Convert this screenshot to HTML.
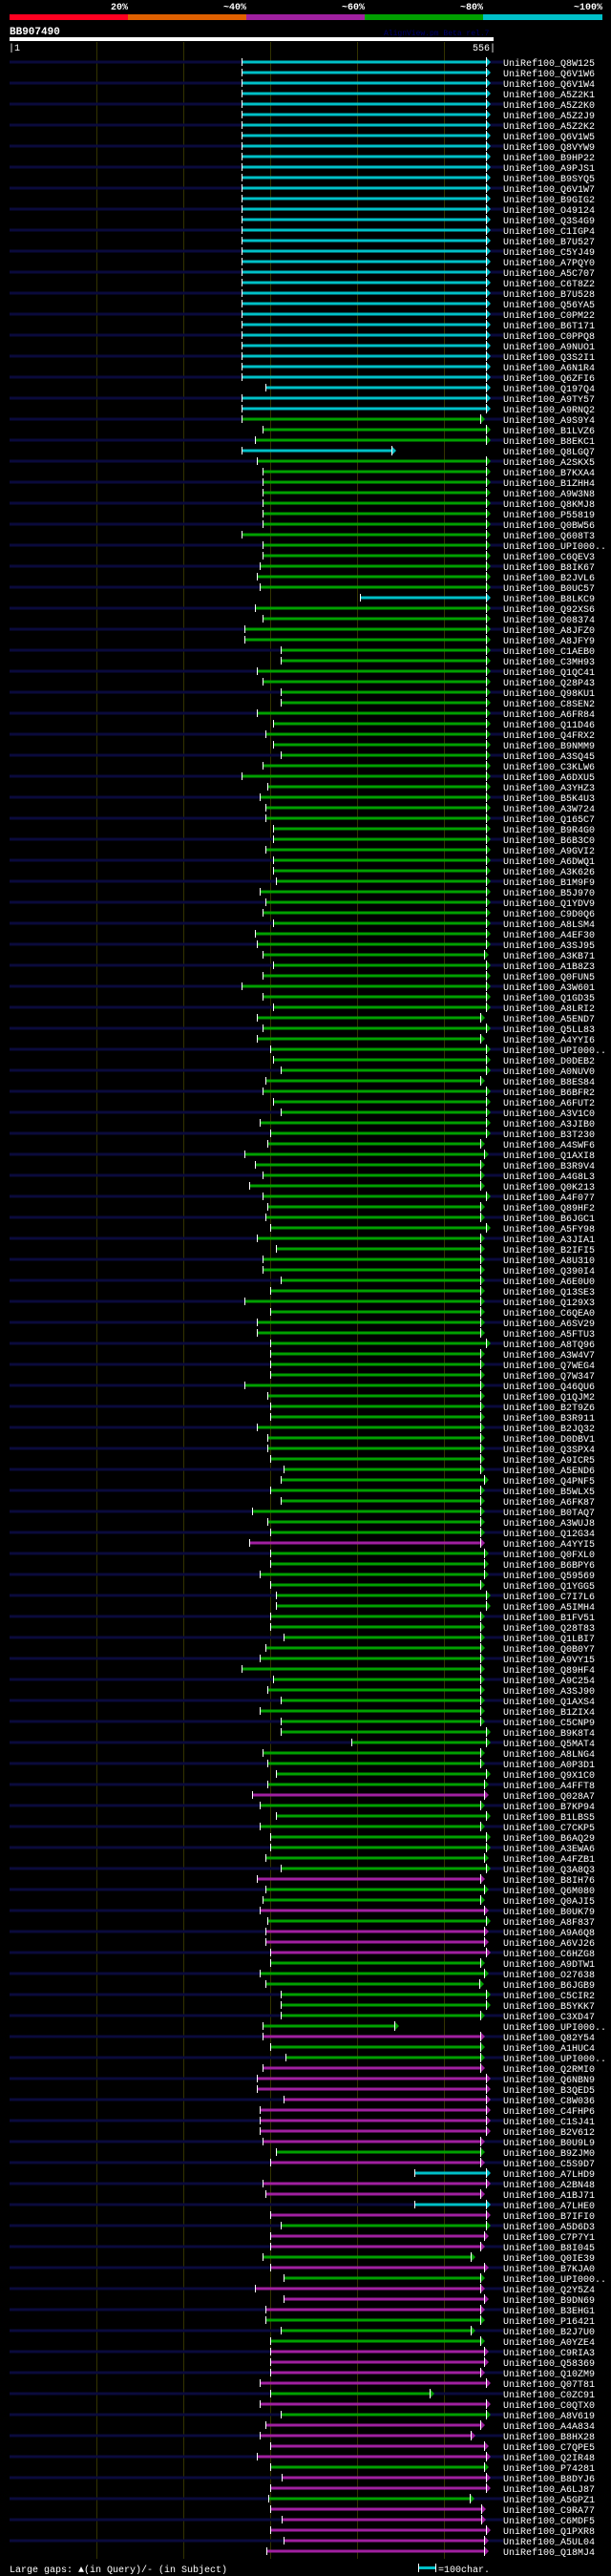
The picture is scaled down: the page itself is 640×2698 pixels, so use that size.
<!DOCTYPE html>
<html><head><meta charset="utf-8"><style>
html,body{margin:0;padding:0;background:#000;}
svg{display:block}
text{font-family:"Liberation Mono",monospace;font-size:10px;fill:#fff}
.n{fill:#0a0a3c}.c{fill:#00c0c8}.g{fill:#00a000}.p{fill:#a020a0}
.w{stroke:#fff;stroke-width:1;fill:none}
</style></head><body>
<svg width="640" height="2698" viewBox="0 0 640 2698" xmlns="http://www.w3.org/2000/svg">
<rect width="640" height="2698" fill="#000"/>
<g font-weight="bold" text-anchor="end">
<text x="134" y="10" style="font-weight:bold">20%</text>
<text x="258" y="10" style="font-weight:bold">~40%</text>
<text x="382" y="10" style="font-weight:bold">~60%</text>
<text x="506" y="10" style="font-weight:bold">~80%</text>
<text x="631" y="10" style="font-weight:bold">~100%</text>
</g>
<rect x="10" y="15" width="124" height="6" fill="#ff0020"/>
<rect x="134" y="15" width="124" height="6" fill="#e06000"/>
<rect x="258" y="15" width="124" height="6" fill="#a020a0"/>
<rect x="382" y="15" width="124" height="6" fill="#00a000"/>
<rect x="506" y="15" width="125" height="6" fill="#00c0c8"/>
<text x="10" y="36" style="font-weight:bold;font-size:11px">BB907490</text>
<text x="402" y="37" style="font-size:8px;fill:#000070">AlignView.pm Beta rel.7</text>
<rect x="10" y="39" width="507" height="4" fill="#fff"/>
<text x="9" y="53">|1</text>
<text x="519" y="53" text-anchor="end">556|</text>
<g stroke="#333300" stroke-width="1">
<line x1="101.5" y1="44" x2="101.5" y2="2680"/><line x1="192.5" y1="44" x2="192.5" y2="2680"/><line x1="283.5" y1="44" x2="283.5" y2="2680"/><line x1="374.5" y1="44" x2="374.5" y2="2680"/><line x1="465.5" y1="44" x2="465.5" y2="2680"/>
</g>
<g transform="translate(0,65)"><rect class="n" x="10" y="-1.5" width="517" height="3"/><rect class="c" x="253" y="-1.5" width="256" height="3"/><path class="c" d="M509 -5L514 0L509 5Z"/><path class="w" d="M253.5 -4V4M509.5 -5V5"/><text x="527" y="4">UniRef100_Q8W125</text></g>
<g transform="translate(0,76)"><rect class="c" x="253" y="-1.5" width="256" height="3"/><path class="c" d="M509 -5L514 0L509 5Z"/><path class="w" d="M253.5 -4V4M509.5 -5V5"/><text x="527" y="4">UniRef100_Q6V1W6</text></g>
<g transform="translate(0,87)"><rect class="n" x="10" y="-1.5" width="517" height="3"/><rect class="c" x="253" y="-1.5" width="256" height="3"/><path class="c" d="M509 -5L514 0L509 5Z"/><path class="w" d="M253.5 -4V4M509.5 -5V5"/><text x="527" y="4">UniRef100_Q6V1W4</text></g>
<g transform="translate(0,98)"><rect class="c" x="253" y="-1.5" width="256" height="3"/><path class="c" d="M509 -5L514 0L509 5Z"/><path class="w" d="M253.5 -4V4M509.5 -5V5"/><text x="527" y="4">UniRef100_A5Z2K1</text></g>
<g transform="translate(0,109)"><rect class="n" x="10" y="-1.5" width="517" height="3"/><rect class="c" x="253" y="-1.5" width="256" height="3"/><path class="c" d="M509 -5L514 0L509 5Z"/><path class="w" d="M253.5 -4V4M509.5 -5V5"/><text x="527" y="4">UniRef100_A5Z2K0</text></g>
<g transform="translate(0,120)"><rect class="c" x="253" y="-1.5" width="256" height="3"/><path class="c" d="M509 -5L514 0L509 5Z"/><path class="w" d="M253.5 -4V4M509.5 -5V5"/><text x="527" y="4">UniRef100_A5Z2J9</text></g>
<g transform="translate(0,131)"><rect class="n" x="10" y="-1.5" width="517" height="3"/><rect class="c" x="253" y="-1.5" width="256" height="3"/><path class="c" d="M509 -5L514 0L509 5Z"/><path class="w" d="M253.5 -4V4M509.5 -5V5"/><text x="527" y="4">UniRef100_A5Z2K2</text></g>
<g transform="translate(0,142)"><rect class="c" x="253" y="-1.5" width="256" height="3"/><path class="c" d="M509 -5L514 0L509 5Z"/><path class="w" d="M253.5 -4V4M509.5 -5V5"/><text x="527" y="4">UniRef100_Q6V1W5</text></g>
<g transform="translate(0,153)"><rect class="n" x="10" y="-1.5" width="517" height="3"/><rect class="c" x="253" y="-1.5" width="256" height="3"/><path class="c" d="M509 -5L514 0L509 5Z"/><path class="w" d="M253.5 -4V4M509.5 -5V5"/><text x="527" y="4">UniRef100_Q8VYW9</text></g>
<g transform="translate(0,164)"><rect class="c" x="253" y="-1.5" width="256" height="3"/><path class="c" d="M509 -5L514 0L509 5Z"/><path class="w" d="M253.5 -4V4M509.5 -5V5"/><text x="527" y="4">UniRef100_B9HP22</text></g>
<g transform="translate(0,175)"><rect class="n" x="10" y="-1.5" width="517" height="3"/><rect class="c" x="253" y="-1.5" width="256" height="3"/><path class="c" d="M509 -5L514 0L509 5Z"/><path class="w" d="M253.5 -4V4M509.5 -5V5"/><text x="527" y="4">UniRef100_A9PJS1</text></g>
<g transform="translate(0,186)"><rect class="c" x="253" y="-1.5" width="256" height="3"/><path class="c" d="M509 -5L514 0L509 5Z"/><path class="w" d="M253.5 -4V4M509.5 -5V5"/><text x="527" y="4">UniRef100_B9SYQ5</text></g>
<g transform="translate(0,197)"><rect class="n" x="10" y="-1.5" width="517" height="3"/><rect class="c" x="253" y="-1.5" width="256" height="3"/><path class="c" d="M509 -5L514 0L509 5Z"/><path class="w" d="M253.5 -4V4M509.5 -5V5"/><text x="527" y="4">UniRef100_Q6V1W7</text></g>
<g transform="translate(0,208)"><rect class="c" x="253" y="-1.5" width="256" height="3"/><path class="c" d="M509 -5L514 0L509 5Z"/><path class="w" d="M253.5 -4V4M509.5 -5V5"/><text x="527" y="4">UniRef100_B9GIG2</text></g>
<g transform="translate(0,219)"><rect class="n" x="10" y="-1.5" width="517" height="3"/><rect class="c" x="253" y="-1.5" width="256" height="3"/><path class="c" d="M509 -5L514 0L509 5Z"/><path class="w" d="M253.5 -4V4M509.5 -5V5"/><text x="527" y="4">UniRef100_O49124</text></g>
<g transform="translate(0,230)"><rect class="c" x="253" y="-1.5" width="256" height="3"/><path class="c" d="M509 -5L514 0L509 5Z"/><path class="w" d="M253.5 -4V4M509.5 -5V5"/><text x="527" y="4">UniRef100_Q3S4G9</text></g>
<g transform="translate(0,241)"><rect class="n" x="10" y="-1.5" width="517" height="3"/><rect class="c" x="253" y="-1.5" width="256" height="3"/><path class="c" d="M509 -5L514 0L509 5Z"/><path class="w" d="M253.5 -4V4M509.5 -5V5"/><text x="527" y="4">UniRef100_C1IGP4</text></g>
<g transform="translate(0,252)"><rect class="c" x="253" y="-1.5" width="256" height="3"/><path class="c" d="M509 -5L514 0L509 5Z"/><path class="w" d="M253.5 -4V4M509.5 -5V5"/><text x="527" y="4">UniRef100_B7U527</text></g>
<g transform="translate(0,263)"><rect class="n" x="10" y="-1.5" width="517" height="3"/><rect class="c" x="253" y="-1.5" width="256" height="3"/><path class="c" d="M509 -5L514 0L509 5Z"/><path class="w" d="M253.5 -4V4M509.5 -5V5"/><text x="527" y="4">UniRef100_C5YJ49</text></g>
<g transform="translate(0,274)"><rect class="c" x="253" y="-1.5" width="256" height="3"/><path class="c" d="M509 -5L514 0L509 5Z"/><path class="w" d="M253.5 -4V4M509.5 -5V5"/><text x="527" y="4">UniRef100_A7PQY0</text></g>
<g transform="translate(0,285)"><rect class="n" x="10" y="-1.5" width="517" height="3"/><rect class="c" x="253" y="-1.5" width="256" height="3"/><path class="c" d="M509 -5L514 0L509 5Z"/><path class="w" d="M253.5 -4V4M509.5 -5V5"/><text x="527" y="4">UniRef100_A5C707</text></g>
<g transform="translate(0,296)"><rect class="c" x="253" y="-1.5" width="256" height="3"/><path class="c" d="M509 -5L514 0L509 5Z"/><path class="w" d="M253.5 -4V4M509.5 -5V5"/><text x="527" y="4">UniRef100_C6T8Z2</text></g>
<g transform="translate(0,307)"><rect class="n" x="10" y="-1.5" width="517" height="3"/><rect class="c" x="253" y="-1.5" width="256" height="3"/><path class="c" d="M509 -5L514 0L509 5Z"/><path class="w" d="M253.5 -4V4M509.5 -5V5"/><text x="527" y="4">UniRef100_B7U528</text></g>
<g transform="translate(0,318)"><rect class="c" x="253" y="-1.5" width="256" height="3"/><path class="c" d="M509 -5L514 0L509 5Z"/><path class="w" d="M253.5 -4V4M509.5 -5V5"/><text x="527" y="4">UniRef100_Q56YA5</text></g>
<g transform="translate(0,329)"><rect class="n" x="10" y="-1.5" width="517" height="3"/><rect class="c" x="253" y="-1.5" width="256" height="3"/><path class="c" d="M509 -5L514 0L509 5Z"/><path class="w" d="M253.5 -4V4M509.5 -5V5"/><text x="527" y="4">UniRef100_C0PM22</text></g>
<g transform="translate(0,340)"><rect class="c" x="253" y="-1.5" width="256" height="3"/><path class="c" d="M509 -5L514 0L509 5Z"/><path class="w" d="M253.5 -4V4M509.5 -5V5"/><text x="527" y="4">UniRef100_B6T171</text></g>
<g transform="translate(0,351)"><rect class="n" x="10" y="-1.5" width="517" height="3"/><rect class="c" x="253" y="-1.5" width="256" height="3"/><path class="c" d="M509 -5L514 0L509 5Z"/><path class="w" d="M253.5 -4V4M509.5 -5V5"/><text x="527" y="4">UniRef100_C0PPQ8</text></g>
<g transform="translate(0,362)"><rect class="c" x="253" y="-1.5" width="256" height="3"/><path class="c" d="M509 -5L514 0L509 5Z"/><path class="w" d="M253.5 -4V4M509.5 -5V5"/><text x="527" y="4">UniRef100_A9NUO1</text></g>
<g transform="translate(0,373)"><rect class="n" x="10" y="-1.5" width="517" height="3"/><rect class="c" x="253" y="-1.5" width="256" height="3"/><path class="c" d="M509 -5L514 0L509 5Z"/><path class="w" d="M253.5 -4V4M509.5 -5V5"/><text x="527" y="4">UniRef100_Q3S2I1</text></g>
<g transform="translate(0,384)"><rect class="c" x="253" y="-1.5" width="256" height="3"/><path class="c" d="M509 -5L514 0L509 5Z"/><path class="w" d="M253.5 -4V4M509.5 -5V5"/><text x="527" y="4">UniRef100_A6N1R4</text></g>
<g transform="translate(0,395)"><rect class="n" x="10" y="-1.5" width="517" height="3"/><rect class="c" x="253" y="-1.5" width="256" height="3"/><path class="c" d="M509 -5L514 0L509 5Z"/><path class="w" d="M253.5 -4V4M509.5 -5V5"/><text x="527" y="4">UniRef100_Q6ZFI6</text></g>
<g transform="translate(0,406)"><rect class="c" x="278" y="-1.5" width="231" height="3"/><path class="c" d="M509 -5L514 0L509 5Z"/><path class="w" d="M278.5 -4V4M509.5 -5V5"/><text x="527" y="4">UniRef100_Q197Q4</text></g>
<g transform="translate(0,417)"><rect class="n" x="10" y="-1.5" width="517" height="3"/><rect class="c" x="253" y="-1.5" width="256" height="3"/><path class="c" d="M509 -5L514 0L509 5Z"/><path class="w" d="M253.5 -4V4M509.5 -5V5"/><text x="527" y="4">UniRef100_A9TY57</text></g>
<g transform="translate(0,428)"><rect class="c" x="253" y="-1.5" width="256" height="3"/><path class="c" d="M509 -5L514 0L509 5Z"/><path class="w" d="M253.5 -4V4M509.5 -5V5"/><text x="527" y="4">UniRef100_A9RNQ2</text></g>
<g transform="translate(0,439)"><rect class="n" x="10" y="-1.5" width="517" height="3"/><rect class="g" x="253" y="-1.5" width="250" height="3"/><path class="g" d="M503 -5L508 0L503 5Z"/><path class="w" d="M253.5 -4V4M503.5 -5V5"/><text x="527" y="4">UniRef100_A9S9Y4</text></g>
<g transform="translate(0,450)"><rect class="g" x="275" y="-1.5" width="234" height="3"/><path class="g" d="M509 -5L514 0L509 5Z"/><path class="w" d="M275.5 -4V4M509.5 -5V5"/><text x="527" y="4">UniRef100_B1LVZ6</text></g>
<g transform="translate(0,461)"><rect class="n" x="10" y="-1.5" width="517" height="3"/><rect class="g" x="267" y="-1.5" width="242" height="3"/><path class="g" d="M509 -5L514 0L509 5Z"/><path class="w" d="M267.5 -4V4M509.5 -5V5"/><text x="527" y="4">UniRef100_B8EKC1</text></g>
<g transform="translate(0,472)"><rect class="c" x="253" y="-1.5" width="157" height="3"/><path class="c" d="M410 -5L415 0L410 5Z"/><path class="w" d="M253.5 -4V4M410.5 -5V5"/><text x="527" y="4">UniRef100_Q8LGQ7</text></g>
<g transform="translate(0,483)"><rect class="n" x="10" y="-1.5" width="517" height="3"/><rect class="g" x="269" y="-1.5" width="240" height="3"/><path class="g" d="M509 -5L514 0L509 5Z"/><path class="w" d="M269.5 -4V4M509.5 -5V5"/><text x="527" y="4">UniRef100_A2SKX5</text></g>
<g transform="translate(0,494)"><rect class="g" x="275" y="-1.5" width="234" height="3"/><path class="g" d="M509 -5L514 0L509 5Z"/><path class="w" d="M275.5 -4V4M509.5 -5V5"/><text x="527" y="4">UniRef100_B7KXA4</text></g>
<g transform="translate(0,505)"><rect class="n" x="10" y="-1.5" width="517" height="3"/><rect class="g" x="275" y="-1.5" width="234" height="3"/><path class="g" d="M509 -5L514 0L509 5Z"/><path class="w" d="M275.5 -4V4M509.5 -5V5"/><text x="527" y="4">UniRef100_B1ZHH4</text></g>
<g transform="translate(0,516)"><rect class="g" x="275" y="-1.5" width="234" height="3"/><path class="g" d="M509 -5L514 0L509 5Z"/><path class="w" d="M275.5 -4V4M509.5 -5V5"/><text x="527" y="4">UniRef100_A9W3N8</text></g>
<g transform="translate(0,527)"><rect class="n" x="10" y="-1.5" width="517" height="3"/><rect class="g" x="275" y="-1.5" width="234" height="3"/><path class="g" d="M509 -5L514 0L509 5Z"/><path class="w" d="M275.5 -4V4M509.5 -5V5"/><text x="527" y="4">UniRef100_Q8KMJ8</text></g>
<g transform="translate(0,538)"><rect class="g" x="275" y="-1.5" width="234" height="3"/><path class="g" d="M509 -5L514 0L509 5Z"/><path class="w" d="M275.5 -4V4M509.5 -5V5"/><text x="527" y="4">UniRef100_P55819</text></g>
<g transform="translate(0,549)"><rect class="n" x="10" y="-1.5" width="517" height="3"/><rect class="g" x="275" y="-1.5" width="234" height="3"/><path class="g" d="M509 -5L514 0L509 5Z"/><path class="w" d="M275.5 -4V4M509.5 -5V5"/><text x="527" y="4">UniRef100_Q0BW56</text></g>
<g transform="translate(0,560)"><rect class="g" x="253" y="-1.5" width="256" height="3"/><path class="g" d="M509 -5L514 0L509 5Z"/><path class="w" d="M253.5 -4V4M509.5 -5V5"/><text x="527" y="4">UniRef100_Q608T3</text></g>
<g transform="translate(0,571)"><rect class="n" x="10" y="-1.5" width="517" height="3"/><rect class="g" x="275" y="-1.5" width="234" height="3"/><path class="g" d="M509 -5L514 0L509 5Z"/><path class="w" d="M275.5 -4V4M509.5 -5V5"/><text x="527" y="4">UniRef100_UPI000..</text></g>
<g transform="translate(0,582)"><rect class="g" x="275" y="-1.5" width="234" height="3"/><path class="g" d="M509 -5L514 0L509 5Z"/><path class="w" d="M275.5 -4V4M509.5 -5V5"/><text x="527" y="4">UniRef100_C6QEV3</text></g>
<g transform="translate(0,593)"><rect class="n" x="10" y="-1.5" width="517" height="3"/><rect class="g" x="272" y="-1.5" width="237" height="3"/><path class="g" d="M509 -5L514 0L509 5Z"/><path class="w" d="M272.5 -4V4M509.5 -5V5"/><text x="527" y="4">UniRef100_B8IK67</text></g>
<g transform="translate(0,604)"><rect class="g" x="269" y="-1.5" width="240" height="3"/><path class="g" d="M509 -5L514 0L509 5Z"/><path class="w" d="M269.5 -4V4M509.5 -5V5"/><text x="527" y="4">UniRef100_B2JVL6</text></g>
<g transform="translate(0,615)"><rect class="n" x="10" y="-1.5" width="517" height="3"/><rect class="g" x="272" y="-1.5" width="237" height="3"/><path class="g" d="M509 -5L514 0L509 5Z"/><path class="w" d="M272.5 -4V4M509.5 -5V5"/><text x="527" y="4">UniRef100_B0UC57</text></g>
<g transform="translate(0,626)"><rect class="c" x="377" y="-1.5" width="132" height="3"/><path class="c" d="M509 -5L514 0L509 5Z"/><path class="w" d="M377.5 -4V4M509.5 -5V5"/><text x="527" y="4">UniRef100_B8LKC9</text></g>
<g transform="translate(0,637)"><rect class="n" x="10" y="-1.5" width="517" height="3"/><rect class="g" x="267" y="-1.5" width="242" height="3"/><path class="g" d="M509 -5L514 0L509 5Z"/><path class="w" d="M267.5 -4V4M509.5 -5V5"/><text x="527" y="4">UniRef100_Q92XS6</text></g>
<g transform="translate(0,648)"><rect class="g" x="275" y="-1.5" width="234" height="3"/><path class="g" d="M509 -5L514 0L509 5Z"/><path class="w" d="M275.5 -4V4M509.5 -5V5"/><text x="527" y="4">UniRef100_O08374</text></g>
<g transform="translate(0,659)"><rect class="n" x="10" y="-1.5" width="517" height="3"/><rect class="g" x="256" y="-1.5" width="253" height="3"/><path class="g" d="M509 -5L514 0L509 5Z"/><path class="w" d="M256.5 -4V4M509.5 -5V5"/><text x="527" y="4">UniRef100_A8JFZ0</text></g>
<g transform="translate(0,670)"><rect class="g" x="256" y="-1.5" width="253" height="3"/><path class="g" d="M509 -5L514 0L509 5Z"/><path class="w" d="M256.5 -4V4M509.5 -5V5"/><text x="527" y="4">UniRef100_A8JFY9</text></g>
<g transform="translate(0,681)"><rect class="n" x="10" y="-1.5" width="517" height="3"/><rect class="g" x="294" y="-1.5" width="215" height="3"/><path class="g" d="M509 -5L514 0L509 5Z"/><path class="w" d="M294.5 -4V4M509.5 -5V5"/><text x="527" y="4">UniRef100_C1AEB0</text></g>
<g transform="translate(0,692)"><rect class="g" x="294" y="-1.5" width="215" height="3"/><path class="g" d="M509 -5L514 0L509 5Z"/><path class="w" d="M294.5 -4V4M509.5 -5V5"/><text x="527" y="4">UniRef100_C3MH93</text></g>
<g transform="translate(0,703)"><rect class="n" x="10" y="-1.5" width="517" height="3"/><rect class="g" x="269" y="-1.5" width="240" height="3"/><path class="g" d="M509 -5L514 0L509 5Z"/><path class="w" d="M269.5 -4V4M509.5 -5V5"/><text x="527" y="4">UniRef100_Q1QC41</text></g>
<g transform="translate(0,714)"><rect class="g" x="275" y="-1.5" width="234" height="3"/><path class="g" d="M509 -5L514 0L509 5Z"/><path class="w" d="M275.5 -4V4M509.5 -5V5"/><text x="527" y="4">UniRef100_Q28P43</text></g>
<g transform="translate(0,725)"><rect class="n" x="10" y="-1.5" width="517" height="3"/><rect class="g" x="294" y="-1.5" width="215" height="3"/><path class="g" d="M509 -5L514 0L509 5Z"/><path class="w" d="M294.5 -4V4M509.5 -5V5"/><text x="527" y="4">UniRef100_Q98KU1</text></g>
<g transform="translate(0,736)"><rect class="g" x="294" y="-1.5" width="215" height="3"/><path class="g" d="M509 -5L514 0L509 5Z"/><path class="w" d="M294.5 -4V4M509.5 -5V5"/><text x="527" y="4">UniRef100_C8SEN2</text></g>
<g transform="translate(0,747)"><rect class="n" x="10" y="-1.5" width="517" height="3"/><rect class="g" x="269" y="-1.5" width="240" height="3"/><path class="g" d="M509 -5L514 0L509 5Z"/><path class="w" d="M269.5 -4V4M509.5 -5V5"/><text x="527" y="4">UniRef100_A6FR84</text></g>
<g transform="translate(0,758)"><rect class="g" x="286" y="-1.5" width="223" height="3"/><path class="g" d="M509 -5L514 0L509 5Z"/><path class="w" d="M286.5 -4V4M509.5 -5V5"/><text x="527" y="4">UniRef100_Q11D46</text></g>
<g transform="translate(0,769)"><rect class="n" x="10" y="-1.5" width="517" height="3"/><rect class="g" x="278" y="-1.5" width="231" height="3"/><path class="g" d="M509 -5L514 0L509 5Z"/><path class="w" d="M278.5 -4V4M509.5 -5V5"/><text x="527" y="4">UniRef100_Q4FRX2</text></g>
<g transform="translate(0,780)"><rect class="g" x="286" y="-1.5" width="223" height="3"/><path class="g" d="M509 -5L514 0L509 5Z"/><path class="w" d="M286.5 -4V4M509.5 -5V5"/><text x="527" y="4">UniRef100_B9NMM9</text></g>
<g transform="translate(0,791)"><rect class="n" x="10" y="-1.5" width="517" height="3"/><rect class="g" x="294" y="-1.5" width="215" height="3"/><path class="g" d="M509 -5L514 0L509 5Z"/><path class="w" d="M294.5 -4V4M509.5 -5V5"/><text x="527" y="4">UniRef100_A3SQ45</text></g>
<g transform="translate(0,802)"><rect class="g" x="275" y="-1.5" width="234" height="3"/><path class="g" d="M509 -5L514 0L509 5Z"/><path class="w" d="M275.5 -4V4M509.5 -5V5"/><text x="527" y="4">UniRef100_C3KLW6</text></g>
<g transform="translate(0,813)"><rect class="n" x="10" y="-1.5" width="517" height="3"/><rect class="g" x="253" y="-1.5" width="256" height="3"/><path class="g" d="M509 -5L514 0L509 5Z"/><path class="w" d="M253.5 -4V4M509.5 -5V5"/><text x="527" y="4">UniRef100_A6DXU5</text></g>
<g transform="translate(0,824)"><rect class="g" x="280" y="-1.5" width="229" height="3"/><path class="g" d="M509 -5L514 0L509 5Z"/><path class="w" d="M280.5 -4V4M509.5 -5V5"/><text x="527" y="4">UniRef100_A3YHZ3</text></g>
<g transform="translate(0,835)"><rect class="n" x="10" y="-1.5" width="517" height="3"/><rect class="g" x="272" y="-1.5" width="237" height="3"/><path class="g" d="M509 -5L514 0L509 5Z"/><path class="w" d="M272.5 -4V4M509.5 -5V5"/><text x="527" y="4">UniRef100_B5K4U3</text></g>
<g transform="translate(0,846)"><rect class="g" x="278" y="-1.5" width="231" height="3"/><path class="g" d="M509 -5L514 0L509 5Z"/><path class="w" d="M278.5 -4V4M509.5 -5V5"/><text x="527" y="4">UniRef100_A3W724</text></g>
<g transform="translate(0,857)"><rect class="n" x="10" y="-1.5" width="517" height="3"/><rect class="g" x="278" y="-1.5" width="231" height="3"/><path class="g" d="M509 -5L514 0L509 5Z"/><path class="w" d="M278.5 -4V4M509.5 -5V5"/><text x="527" y="4">UniRef100_Q165C7</text></g>
<g transform="translate(0,868)"><rect class="g" x="286" y="-1.5" width="223" height="3"/><path class="g" d="M509 -5L514 0L509 5Z"/><path class="w" d="M286.5 -4V4M509.5 -5V5"/><text x="527" y="4">UniRef100_B9R4G0</text></g>
<g transform="translate(0,879)"><rect class="n" x="10" y="-1.5" width="517" height="3"/><rect class="g" x="286" y="-1.5" width="223" height="3"/><path class="g" d="M509 -5L514 0L509 5Z"/><path class="w" d="M286.5 -4V4M509.5 -5V5"/><text x="527" y="4">UniRef100_B6B3C0</text></g>
<g transform="translate(0,890)"><rect class="g" x="278" y="-1.5" width="231" height="3"/><path class="g" d="M509 -5L514 0L509 5Z"/><path class="w" d="M278.5 -4V4M509.5 -5V5"/><text x="527" y="4">UniRef100_A9GVI2</text></g>
<g transform="translate(0,901)"><rect class="n" x="10" y="-1.5" width="517" height="3"/><rect class="g" x="286" y="-1.5" width="223" height="3"/><path class="g" d="M509 -5L514 0L509 5Z"/><path class="w" d="M286.5 -4V4M509.5 -5V5"/><text x="527" y="4">UniRef100_A6DWQ1</text></g>
<g transform="translate(0,912)"><rect class="g" x="286" y="-1.5" width="223" height="3"/><path class="g" d="M509 -5L514 0L509 5Z"/><path class="w" d="M286.5 -4V4M509.5 -5V5"/><text x="527" y="4">UniRef100_A3K626</text></g>
<g transform="translate(0,923)"><rect class="n" x="10" y="-1.5" width="517" height="3"/><rect class="g" x="289" y="-1.5" width="220" height="3"/><path class="g" d="M509 -5L514 0L509 5Z"/><path class="w" d="M289.5 -4V4M509.5 -5V5"/><text x="527" y="4">UniRef100_B1M9F9</text></g>
<g transform="translate(0,934)"><rect class="g" x="272" y="-1.5" width="237" height="3"/><path class="g" d="M509 -5L514 0L509 5Z"/><path class="w" d="M272.5 -4V4M509.5 -5V5"/><text x="527" y="4">UniRef100_B5J970</text></g>
<g transform="translate(0,945)"><rect class="n" x="10" y="-1.5" width="517" height="3"/><rect class="g" x="278" y="-1.5" width="231" height="3"/><path class="g" d="M509 -5L514 0L509 5Z"/><path class="w" d="M278.5 -4V4M509.5 -5V5"/><text x="527" y="4">UniRef100_Q1YDV9</text></g>
<g transform="translate(0,956)"><rect class="g" x="275" y="-1.5" width="234" height="3"/><path class="g" d="M509 -5L514 0L509 5Z"/><path class="w" d="M275.5 -4V4M509.5 -5V5"/><text x="527" y="4">UniRef100_C9D0Q6</text></g>
<g transform="translate(0,967)"><rect class="n" x="10" y="-1.5" width="517" height="3"/><rect class="g" x="286" y="-1.5" width="223" height="3"/><path class="g" d="M509 -5L514 0L509 5Z"/><path class="w" d="M286.5 -4V4M509.5 -5V5"/><text x="527" y="4">UniRef100_A8LSM4</text></g>
<g transform="translate(0,978)"><rect class="g" x="267" y="-1.5" width="242" height="3"/><path class="g" d="M509 -5L514 0L509 5Z"/><path class="w" d="M267.5 -4V4M509.5 -5V5"/><text x="527" y="4">UniRef100_A4EF30</text></g>
<g transform="translate(0,989)"><rect class="n" x="10" y="-1.5" width="517" height="3"/><rect class="g" x="269" y="-1.5" width="240" height="3"/><path class="g" d="M509 -5L514 0L509 5Z"/><path class="w" d="M269.5 -4V4M509.5 -5V5"/><text x="527" y="4">UniRef100_A3SJ95</text></g>
<g transform="translate(0,1000)"><rect class="g" x="275" y="-1.5" width="232" height="3"/><path class="g" d="M507 -5L512 0L507 5Z"/><path class="w" d="M275.5 -4V4M507.5 -5V5"/><text x="527" y="4">UniRef100_A3KB71</text></g>
<g transform="translate(0,1011)"><rect class="n" x="10" y="-1.5" width="517" height="3"/><rect class="g" x="286" y="-1.5" width="223" height="3"/><path class="g" d="M509 -5L514 0L509 5Z"/><path class="w" d="M286.5 -4V4M509.5 -5V5"/><text x="527" y="4">UniRef100_A1B8Z3</text></g>
<g transform="translate(0,1022)"><rect class="g" x="275" y="-1.5" width="234" height="3"/><path class="g" d="M509 -5L514 0L509 5Z"/><path class="w" d="M275.5 -4V4M509.5 -5V5"/><text x="527" y="4">UniRef100_Q0FUN5</text></g>
<g transform="translate(0,1033)"><rect class="n" x="10" y="-1.5" width="517" height="3"/><rect class="g" x="253" y="-1.5" width="256" height="3"/><path class="g" d="M509 -5L514 0L509 5Z"/><path class="w" d="M253.5 -4V4M509.5 -5V5"/><text x="527" y="4">UniRef100_A3W601</text></g>
<g transform="translate(0,1044)"><rect class="g" x="275" y="-1.5" width="234" height="3"/><path class="g" d="M509 -5L514 0L509 5Z"/><path class="w" d="M275.5 -4V4M509.5 -5V5"/><text x="527" y="4">UniRef100_Q1GD35</text></g>
<g transform="translate(0,1055)"><rect class="n" x="10" y="-1.5" width="517" height="3"/><rect class="g" x="286" y="-1.5" width="223" height="3"/><path class="g" d="M509 -5L514 0L509 5Z"/><path class="w" d="M286.5 -4V4M509.5 -5V5"/><text x="527" y="4">UniRef100_A8LRI2</text></g>
<g transform="translate(0,1066)"><rect class="g" x="269" y="-1.5" width="234" height="3"/><path class="g" d="M503 -5L508 0L503 5Z"/><path class="w" d="M269.5 -4V4M503.5 -5V5"/><text x="527" y="4">UniRef100_A5END7</text></g>
<g transform="translate(0,1077)"><rect class="n" x="10" y="-1.5" width="517" height="3"/><rect class="g" x="275" y="-1.5" width="234" height="3"/><path class="g" d="M509 -5L514 0L509 5Z"/><path class="w" d="M275.5 -4V4M509.5 -5V5"/><text x="527" y="4">UniRef100_Q5LL83</text></g>
<g transform="translate(0,1088)"><rect class="g" x="269" y="-1.5" width="234" height="3"/><path class="g" d="M503 -5L508 0L503 5Z"/><path class="w" d="M269.5 -4V4M503.5 -5V5"/><text x="527" y="4">UniRef100_A4YYI6</text></g>
<g transform="translate(0,1099)"><rect class="n" x="10" y="-1.5" width="517" height="3"/><rect class="g" x="283" y="-1.5" width="226" height="3"/><path class="g" d="M509 -5L514 0L509 5Z"/><path class="w" d="M283.5 -4V4M509.5 -5V5"/><text x="527" y="4">UniRef100_UPI000..</text></g>
<g transform="translate(0,1110)"><rect class="g" x="286" y="-1.5" width="223" height="3"/><path class="g" d="M509 -5L514 0L509 5Z"/><path class="w" d="M286.5 -4V4M509.5 -5V5"/><text x="527" y="4">UniRef100_D0DEB2</text></g>
<g transform="translate(0,1121)"><rect class="n" x="10" y="-1.5" width="517" height="3"/><rect class="g" x="294" y="-1.5" width="215" height="3"/><path class="g" d="M509 -5L514 0L509 5Z"/><path class="w" d="M294.5 -4V4M509.5 -5V5"/><text x="527" y="4">UniRef100_A0NUV0</text></g>
<g transform="translate(0,1132)"><rect class="g" x="278" y="-1.5" width="225" height="3"/><path class="g" d="M503 -5L508 0L503 5Z"/><path class="w" d="M278.5 -4V4M503.5 -5V5"/><text x="527" y="4">UniRef100_B8ES84</text></g>
<g transform="translate(0,1143)"><rect class="n" x="10" y="-1.5" width="517" height="3"/><rect class="g" x="275" y="-1.5" width="234" height="3"/><path class="g" d="M509 -5L514 0L509 5Z"/><path class="w" d="M275.5 -4V4M509.5 -5V5"/><text x="527" y="4">UniRef100_B6BFR2</text></g>
<g transform="translate(0,1154)"><rect class="g" x="286" y="-1.5" width="223" height="3"/><path class="g" d="M509 -5L514 0L509 5Z"/><path class="w" d="M286.5 -4V4M509.5 -5V5"/><text x="527" y="4">UniRef100_A6FUT2</text></g>
<g transform="translate(0,1165)"><rect class="n" x="10" y="-1.5" width="517" height="3"/><rect class="g" x="294" y="-1.5" width="215" height="3"/><path class="g" d="M509 -5L514 0L509 5Z"/><path class="w" d="M294.5 -4V4M509.5 -5V5"/><text x="527" y="4">UniRef100_A3V1C0</text></g>
<g transform="translate(0,1176)"><rect class="g" x="272" y="-1.5" width="237" height="3"/><path class="g" d="M509 -5L514 0L509 5Z"/><path class="w" d="M272.5 -4V4M509.5 -5V5"/><text x="527" y="4">UniRef100_A3JIB0</text></g>
<g transform="translate(0,1187)"><rect class="n" x="10" y="-1.5" width="517" height="3"/><rect class="g" x="283" y="-1.5" width="226" height="3"/><path class="g" d="M509 -5L514 0L509 5Z"/><path class="w" d="M283.5 -4V4M509.5 -5V5"/><text x="527" y="4">UniRef100_B3T230</text></g>
<g transform="translate(0,1198)"><rect class="g" x="280" y="-1.5" width="223" height="3"/><path class="g" d="M503 -5L508 0L503 5Z"/><path class="w" d="M280.5 -4V4M503.5 -5V5"/><text x="527" y="4">UniRef100_A4SWF6</text></g>
<g transform="translate(0,1209)"><rect class="n" x="10" y="-1.5" width="517" height="3"/><rect class="g" x="256" y="-1.5" width="251" height="3"/><path class="g" d="M507 -5L512 0L507 5Z"/><path class="w" d="M256.5 -4V4M507.5 -5V5"/><text x="527" y="4">UniRef100_Q1AXI8</text></g>
<g transform="translate(0,1220)"><rect class="g" x="267" y="-1.5" width="236" height="3"/><path class="g" d="M503 -5L508 0L503 5Z"/><path class="w" d="M267.5 -4V4M503.5 -5V5"/><text x="527" y="4">UniRef100_B3R9V4</text></g>
<g transform="translate(0,1231)"><rect class="n" x="10" y="-1.5" width="517" height="3"/><rect class="g" x="275" y="-1.5" width="228" height="3"/><path class="g" d="M503 -5L508 0L503 5Z"/><path class="w" d="M275.5 -4V4M503.5 -5V5"/><text x="527" y="4">UniRef100_A4G8L3</text></g>
<g transform="translate(0,1242)"><rect class="g" x="261" y="-1.5" width="242" height="3"/><path class="g" d="M503 -5L508 0L503 5Z"/><path class="w" d="M261.5 -4V4M503.5 -5V5"/><text x="527" y="4">UniRef100_Q0K213</text></g>
<g transform="translate(0,1253)"><rect class="n" x="10" y="-1.5" width="517" height="3"/><rect class="g" x="275" y="-1.5" width="234" height="3"/><path class="g" d="M509 -5L514 0L509 5Z"/><path class="w" d="M275.5 -4V4M509.5 -5V5"/><text x="527" y="4">UniRef100_A4F077</text></g>
<g transform="translate(0,1264)"><rect class="g" x="280" y="-1.5" width="223" height="3"/><path class="g" d="M503 -5L508 0L503 5Z"/><path class="w" d="M280.5 -4V4M503.5 -5V5"/><text x="527" y="4">UniRef100_Q89HF2</text></g>
<g transform="translate(0,1275)"><rect class="n" x="10" y="-1.5" width="517" height="3"/><rect class="g" x="278" y="-1.5" width="225" height="3"/><path class="g" d="M503 -5L508 0L503 5Z"/><path class="w" d="M278.5 -4V4M503.5 -5V5"/><text x="527" y="4">UniRef100_B6JGC1</text></g>
<g transform="translate(0,1286)"><rect class="g" x="283" y="-1.5" width="226" height="3"/><path class="g" d="M509 -5L514 0L509 5Z"/><path class="w" d="M283.5 -4V4M509.5 -5V5"/><text x="527" y="4">UniRef100_A5FY98</text></g>
<g transform="translate(0,1297)"><rect class="n" x="10" y="-1.5" width="517" height="3"/><rect class="g" x="269" y="-1.5" width="234" height="3"/><path class="g" d="M503 -5L508 0L503 5Z"/><path class="w" d="M269.5 -4V4M503.5 -5V5"/><text x="527" y="4">UniRef100_A3JIA1</text></g>
<g transform="translate(0,1308)"><rect class="g" x="289" y="-1.5" width="214" height="3"/><path class="g" d="M503 -5L508 0L503 5Z"/><path class="w" d="M289.5 -4V4M503.5 -5V5"/><text x="527" y="4">UniRef100_B2IFI5</text></g>
<g transform="translate(0,1319)"><rect class="n" x="10" y="-1.5" width="517" height="3"/><rect class="g" x="275" y="-1.5" width="228" height="3"/><path class="g" d="M503 -5L508 0L503 5Z"/><path class="w" d="M275.5 -4V4M503.5 -5V5"/><text x="527" y="4">UniRef100_A8U310</text></g>
<g transform="translate(0,1330)"><rect class="g" x="275" y="-1.5" width="228" height="3"/><path class="g" d="M503 -5L508 0L503 5Z"/><path class="w" d="M275.5 -4V4M503.5 -5V5"/><text x="527" y="4">UniRef100_Q390I4</text></g>
<g transform="translate(0,1341)"><rect class="n" x="10" y="-1.5" width="517" height="3"/><rect class="g" x="294" y="-1.5" width="209" height="3"/><path class="g" d="M503 -5L508 0L503 5Z"/><path class="w" d="M294.5 -4V4M503.5 -5V5"/><text x="527" y="4">UniRef100_A6E0U0</text></g>
<g transform="translate(0,1352)"><rect class="g" x="283" y="-1.5" width="220" height="3"/><path class="g" d="M503 -5L508 0L503 5Z"/><path class="w" d="M283.5 -4V4M503.5 -5V5"/><text x="527" y="4">UniRef100_Q13SE3</text></g>
<g transform="translate(0,1363)"><rect class="n" x="10" y="-1.5" width="517" height="3"/><rect class="g" x="256" y="-1.5" width="247" height="3"/><path class="g" d="M503 -5L508 0L503 5Z"/><path class="w" d="M256.5 -4V4M503.5 -5V5"/><text x="527" y="4">UniRef100_Q129X3</text></g>
<g transform="translate(0,1374)"><rect class="g" x="283" y="-1.5" width="220" height="3"/><path class="g" d="M503 -5L508 0L503 5Z"/><path class="w" d="M283.5 -4V4M503.5 -5V5"/><text x="527" y="4">UniRef100_C6QEA0</text></g>
<g transform="translate(0,1385)"><rect class="n" x="10" y="-1.5" width="517" height="3"/><rect class="g" x="269" y="-1.5" width="234" height="3"/><path class="g" d="M503 -5L508 0L503 5Z"/><path class="w" d="M269.5 -4V4M503.5 -5V5"/><text x="527" y="4">UniRef100_A6SV29</text></g>
<g transform="translate(0,1396)"><rect class="g" x="269" y="-1.5" width="234" height="3"/><path class="g" d="M503 -5L508 0L503 5Z"/><path class="w" d="M269.5 -4V4M503.5 -5V5"/><text x="527" y="4">UniRef100_A5FTU3</text></g>
<g transform="translate(0,1407)"><rect class="n" x="10" y="-1.5" width="517" height="3"/><rect class="g" x="283" y="-1.5" width="226" height="3"/><path class="g" d="M509 -5L514 0L509 5Z"/><path class="w" d="M283.5 -4V4M509.5 -5V5"/><text x="527" y="4">UniRef100_A8TQ96</text></g>
<g transform="translate(0,1418)"><rect class="g" x="283" y="-1.5" width="220" height="3"/><path class="g" d="M503 -5L508 0L503 5Z"/><path class="w" d="M283.5 -4V4M503.5 -5V5"/><text x="527" y="4">UniRef100_A3W4V7</text></g>
<g transform="translate(0,1429)"><rect class="n" x="10" y="-1.5" width="517" height="3"/><rect class="g" x="283" y="-1.5" width="220" height="3"/><path class="g" d="M503 -5L508 0L503 5Z"/><path class="w" d="M283.5 -4V4M503.5 -5V5"/><text x="527" y="4">UniRef100_Q7WEG4</text></g>
<g transform="translate(0,1440)"><rect class="g" x="283" y="-1.5" width="220" height="3"/><path class="g" d="M503 -5L508 0L503 5Z"/><path class="w" d="M283.5 -4V4M503.5 -5V5"/><text x="527" y="4">UniRef100_Q7W347</text></g>
<g transform="translate(0,1451)"><rect class="n" x="10" y="-1.5" width="517" height="3"/><rect class="g" x="256" y="-1.5" width="247" height="3"/><path class="g" d="M503 -5L508 0L503 5Z"/><path class="w" d="M256.5 -4V4M503.5 -5V5"/><text x="527" y="4">UniRef100_Q46QU6</text></g>
<g transform="translate(0,1462)"><rect class="g" x="280" y="-1.5" width="223" height="3"/><path class="g" d="M503 -5L508 0L503 5Z"/><path class="w" d="M280.5 -4V4M503.5 -5V5"/><text x="527" y="4">UniRef100_Q1QJM2</text></g>
<g transform="translate(0,1473)"><rect class="n" x="10" y="-1.5" width="517" height="3"/><rect class="g" x="283" y="-1.5" width="220" height="3"/><path class="g" d="M503 -5L508 0L503 5Z"/><path class="w" d="M283.5 -4V4M503.5 -5V5"/><text x="527" y="4">UniRef100_B2T9Z6</text></g>
<g transform="translate(0,1484)"><rect class="g" x="283" y="-1.5" width="220" height="3"/><path class="g" d="M503 -5L508 0L503 5Z"/><path class="w" d="M283.5 -4V4M503.5 -5V5"/><text x="527" y="4">UniRef100_B3R911</text></g>
<g transform="translate(0,1495)"><rect class="n" x="10" y="-1.5" width="517" height="3"/><rect class="g" x="269" y="-1.5" width="234" height="3"/><path class="g" d="M503 -5L508 0L503 5Z"/><path class="w" d="M269.5 -4V4M503.5 -5V5"/><text x="527" y="4">UniRef100_B2JQ32</text></g>
<g transform="translate(0,1506)"><rect class="g" x="280" y="-1.5" width="223" height="3"/><path class="g" d="M503 -5L508 0L503 5Z"/><path class="w" d="M280.5 -4V4M503.5 -5V5"/><text x="527" y="4">UniRef100_D0DBV1</text></g>
<g transform="translate(0,1517)"><rect class="n" x="10" y="-1.5" width="517" height="3"/><rect class="g" x="280" y="-1.5" width="223" height="3"/><path class="g" d="M503 -5L508 0L503 5Z"/><path class="w" d="M280.5 -4V4M503.5 -5V5"/><text x="527" y="4">UniRef100_Q3SPX4</text></g>
<g transform="translate(0,1528)"><rect class="g" x="283" y="-1.5" width="220" height="3"/><path class="g" d="M503 -5L508 0L503 5Z"/><path class="w" d="M283.5 -4V4M503.5 -5V5"/><text x="527" y="4">UniRef100_A9ICR5</text></g>
<g transform="translate(0,1539)"><rect class="n" x="10" y="-1.5" width="517" height="3"/><rect class="g" x="297" y="-1.5" width="206" height="3"/><path class="g" d="M503 -5L508 0L503 5Z"/><path class="w" d="M297.5 -4V4M503.5 -5V5"/><text x="527" y="4">UniRef100_A5END6</text></g>
<g transform="translate(0,1550)"><rect class="g" x="294" y="-1.5" width="213" height="3"/><path class="g" d="M507 -5L512 0L507 5Z"/><path class="w" d="M294.5 -4V4M507.5 -5V5"/><text x="527" y="4">UniRef100_Q4PNF5</text></g>
<g transform="translate(0,1561)"><rect class="n" x="10" y="-1.5" width="517" height="3"/><rect class="g" x="283" y="-1.5" width="220" height="3"/><path class="g" d="M503 -5L508 0L503 5Z"/><path class="w" d="M283.5 -4V4M503.5 -5V5"/><text x="527" y="4">UniRef100_B5WLX5</text></g>
<g transform="translate(0,1572)"><rect class="g" x="294" y="-1.5" width="209" height="3"/><path class="g" d="M503 -5L508 0L503 5Z"/><path class="w" d="M294.5 -4V4M503.5 -5V5"/><text x="527" y="4">UniRef100_A6FK87</text></g>
<g transform="translate(0,1583)"><rect class="n" x="10" y="-1.5" width="517" height="3"/><rect class="g" x="264" y="-1.5" width="239" height="3"/><path class="g" d="M503 -5L508 0L503 5Z"/><path class="w" d="M264.5 -4V4M503.5 -5V5"/><text x="527" y="4">UniRef100_B0TAQ7</text></g>
<g transform="translate(0,1594)"><rect class="g" x="280" y="-1.5" width="223" height="3"/><path class="g" d="M503 -5L508 0L503 5Z"/><path class="w" d="M280.5 -4V4M503.5 -5V5"/><text x="527" y="4">UniRef100_A3WUJ8</text></g>
<g transform="translate(0,1605)"><rect class="n" x="10" y="-1.5" width="517" height="3"/><rect class="g" x="283" y="-1.5" width="220" height="3"/><path class="g" d="M503 -5L508 0L503 5Z"/><path class="w" d="M283.5 -4V4M503.5 -5V5"/><text x="527" y="4">UniRef100_Q12G34</text></g>
<g transform="translate(0,1616)"><rect class="p" x="261" y="-1.5" width="242" height="3"/><path class="p" d="M503 -5L508 0L503 5Z"/><path class="w" d="M261.5 -4V4M503.5 -5V5"/><text x="527" y="4">UniRef100_A4YYI5</text></g>
<g transform="translate(0,1627)"><rect class="n" x="10" y="-1.5" width="517" height="3"/><rect class="g" x="283" y="-1.5" width="224" height="3"/><path class="g" d="M507 -5L512 0L507 5Z"/><path class="w" d="M283.5 -4V4M507.5 -5V5"/><text x="527" y="4">UniRef100_Q0FXL0</text></g>
<g transform="translate(0,1638)"><rect class="g" x="283" y="-1.5" width="224" height="3"/><path class="g" d="M507 -5L512 0L507 5Z"/><path class="w" d="M283.5 -4V4M507.5 -5V5"/><text x="527" y="4">UniRef100_B6BPY6</text></g>
<g transform="translate(0,1649)"><rect class="n" x="10" y="-1.5" width="517" height="3"/><rect class="g" x="272" y="-1.5" width="235" height="3"/><path class="g" d="M507 -5L512 0L507 5Z"/><path class="w" d="M272.5 -4V4M507.5 -5V5"/><text x="527" y="4">UniRef100_Q59569</text></g>
<g transform="translate(0,1660)"><rect class="g" x="283" y="-1.5" width="220" height="3"/><path class="g" d="M503 -5L508 0L503 5Z"/><path class="w" d="M283.5 -4V4M503.5 -5V5"/><text x="527" y="4">UniRef100_Q1YGG5</text></g>
<g transform="translate(0,1671)"><rect class="n" x="10" y="-1.5" width="517" height="3"/><rect class="g" x="289" y="-1.5" width="220" height="3"/><path class="g" d="M509 -5L514 0L509 5Z"/><path class="w" d="M289.5 -4V4M509.5 -5V5"/><text x="527" y="4">UniRef100_C7I7L6</text></g>
<g transform="translate(0,1682)"><rect class="g" x="289" y="-1.5" width="220" height="3"/><path class="g" d="M509 -5L514 0L509 5Z"/><path class="w" d="M289.5 -4V4M509.5 -5V5"/><text x="527" y="4">UniRef100_A5IMH4</text></g>
<g transform="translate(0,1693)"><rect class="n" x="10" y="-1.5" width="517" height="3"/><rect class="g" x="283" y="-1.5" width="220" height="3"/><path class="g" d="M503 -5L508 0L503 5Z"/><path class="w" d="M283.5 -4V4M503.5 -5V5"/><text x="527" y="4">UniRef100_B1FV51</text></g>
<g transform="translate(0,1704)"><rect class="g" x="283" y="-1.5" width="220" height="3"/><path class="g" d="M503 -5L508 0L503 5Z"/><path class="w" d="M283.5 -4V4M503.5 -5V5"/><text x="527" y="4">UniRef100_Q28T83</text></g>
<g transform="translate(0,1715)"><rect class="n" x="10" y="-1.5" width="517" height="3"/><rect class="g" x="297" y="-1.5" width="206" height="3"/><path class="g" d="M503 -5L508 0L503 5Z"/><path class="w" d="M297.5 -4V4M503.5 -5V5"/><text x="527" y="4">UniRef100_Q1LBI7</text></g>
<g transform="translate(0,1726)"><rect class="g" x="278" y="-1.5" width="225" height="3"/><path class="g" d="M503 -5L508 0L503 5Z"/><path class="w" d="M278.5 -4V4M503.5 -5V5"/><text x="527" y="4">UniRef100_Q0B0Y7</text></g>
<g transform="translate(0,1737)"><rect class="n" x="10" y="-1.5" width="517" height="3"/><rect class="g" x="272" y="-1.5" width="231" height="3"/><path class="g" d="M503 -5L508 0L503 5Z"/><path class="w" d="M272.5 -4V4M503.5 -5V5"/><text x="527" y="4">UniRef100_A9VY15</text></g>
<g transform="translate(0,1748)"><rect class="g" x="253" y="-1.5" width="250" height="3"/><path class="g" d="M503 -5L508 0L503 5Z"/><path class="w" d="M253.5 -4V4M503.5 -5V5"/><text x="527" y="4">UniRef100_Q89HF4</text></g>
<g transform="translate(0,1759)"><rect class="n" x="10" y="-1.5" width="517" height="3"/><rect class="g" x="286" y="-1.5" width="217" height="3"/><path class="g" d="M503 -5L508 0L503 5Z"/><path class="w" d="M286.5 -4V4M503.5 -5V5"/><text x="527" y="4">UniRef100_A9C254</text></g>
<g transform="translate(0,1770)"><rect class="g" x="280" y="-1.5" width="223" height="3"/><path class="g" d="M503 -5L508 0L503 5Z"/><path class="w" d="M280.5 -4V4M503.5 -5V5"/><text x="527" y="4">UniRef100_A3SJ90</text></g>
<g transform="translate(0,1781)"><rect class="n" x="10" y="-1.5" width="517" height="3"/><rect class="g" x="294" y="-1.5" width="209" height="3"/><path class="g" d="M503 -5L508 0L503 5Z"/><path class="w" d="M294.5 -4V4M503.5 -5V5"/><text x="527" y="4">UniRef100_Q1AXS4</text></g>
<g transform="translate(0,1792)"><rect class="g" x="272" y="-1.5" width="231" height="3"/><path class="g" d="M503 -5L508 0L503 5Z"/><path class="w" d="M272.5 -4V4M503.5 -5V5"/><text x="527" y="4">UniRef100_B1ZIX4</text></g>
<g transform="translate(0,1803)"><rect class="n" x="10" y="-1.5" width="517" height="3"/><rect class="g" x="294" y="-1.5" width="209" height="3"/><path class="g" d="M503 -5L508 0L503 5Z"/><path class="w" d="M294.5 -4V4M503.5 -5V5"/><text x="527" y="4">UniRef100_C5CNP9</text></g>
<g transform="translate(0,1814)"><rect class="g" x="294" y="-1.5" width="215" height="3"/><path class="g" d="M509 -5L514 0L509 5Z"/><path class="w" d="M294.5 -4V4M509.5 -5V5"/><text x="527" y="4">UniRef100_B9K8T4</text></g>
<g transform="translate(0,1825)"><rect class="n" x="10" y="-1.5" width="517" height="3"/><rect class="g" x="368" y="-1.5" width="141" height="3"/><path class="g" d="M509 -5L514 0L509 5Z"/><path class="w" d="M368.5 -4V4M509.5 -5V5"/><text x="527" y="4">UniRef100_Q5MAT4</text></g>
<g transform="translate(0,1836)"><rect class="g" x="275" y="-1.5" width="228" height="3"/><path class="g" d="M503 -5L508 0L503 5Z"/><path class="w" d="M275.5 -4V4M503.5 -5V5"/><text x="527" y="4">UniRef100_A8LNG4</text></g>
<g transform="translate(0,1847)"><rect class="n" x="10" y="-1.5" width="517" height="3"/><rect class="g" x="280" y="-1.5" width="223" height="3"/><path class="g" d="M503 -5L508 0L503 5Z"/><path class="w" d="M280.5 -4V4M503.5 -5V5"/><text x="527" y="4">UniRef100_A0P3D1</text></g>
<g transform="translate(0,1858)"><rect class="g" x="289" y="-1.5" width="220" height="3"/><path class="g" d="M509 -5L514 0L509 5Z"/><path class="w" d="M289.5 -4V4M509.5 -5V5"/><text x="527" y="4">UniRef100_Q9X1C0</text></g>
<g transform="translate(0,1869)"><rect class="n" x="10" y="-1.5" width="517" height="3"/><rect class="g" x="280" y="-1.5" width="227" height="3"/><path class="g" d="M507 -5L512 0L507 5Z"/><path class="w" d="M280.5 -4V4M507.5 -5V5"/><text x="527" y="4">UniRef100_A4FFT8</text></g>
<g transform="translate(0,1880)"><rect class="p" x="264" y="-1.5" width="243" height="3"/><path class="p" d="M507 -5L512 0L507 5Z"/><path class="w" d="M264.5 -4V4M507.5 -5V5"/><text x="527" y="4">UniRef100_Q028A7</text></g>
<g transform="translate(0,1891)"><rect class="n" x="10" y="-1.5" width="517" height="3"/><rect class="g" x="272" y="-1.5" width="231" height="3"/><path class="g" d="M503 -5L508 0L503 5Z"/><path class="w" d="M272.5 -4V4M503.5 -5V5"/><text x="527" y="4">UniRef100_B7KP94</text></g>
<g transform="translate(0,1902)"><rect class="g" x="289" y="-1.5" width="220" height="3"/><path class="g" d="M509 -5L514 0L509 5Z"/><path class="w" d="M289.5 -4V4M509.5 -5V5"/><text x="527" y="4">UniRef100_B1LBS5</text></g>
<g transform="translate(0,1913)"><rect class="n" x="10" y="-1.5" width="517" height="3"/><rect class="g" x="272" y="-1.5" width="231" height="3"/><path class="g" d="M503 -5L508 0L503 5Z"/><path class="w" d="M272.5 -4V4M503.5 -5V5"/><text x="527" y="4">UniRef100_C7CKP5</text></g>
<g transform="translate(0,1924)"><rect class="g" x="283" y="-1.5" width="226" height="3"/><path class="g" d="M509 -5L514 0L509 5Z"/><path class="w" d="M283.5 -4V4M509.5 -5V5"/><text x="527" y="4">UniRef100_B6AQ29</text></g>
<g transform="translate(0,1935)"><rect class="n" x="10" y="-1.5" width="517" height="3"/><rect class="g" x="283" y="-1.5" width="226" height="3"/><path class="g" d="M509 -5L514 0L509 5Z"/><path class="w" d="M283.5 -4V4M509.5 -5V5"/><text x="527" y="4">UniRef100_A3EWA6</text></g>
<g transform="translate(0,1946)"><rect class="g" x="278" y="-1.5" width="229" height="3"/><path class="g" d="M507 -5L512 0L507 5Z"/><path class="w" d="M278.5 -4V4M507.5 -5V5"/><text x="527" y="4">UniRef100_A4FZB1</text></g>
<g transform="translate(0,1957)"><rect class="n" x="10" y="-1.5" width="517" height="3"/><rect class="g" x="294" y="-1.5" width="215" height="3"/><path class="g" d="M509 -5L514 0L509 5Z"/><path class="w" d="M294.5 -4V4M509.5 -5V5"/><text x="527" y="4">UniRef100_Q3A8Q3</text></g>
<g transform="translate(0,1968)"><rect class="p" x="269" y="-1.5" width="234" height="3"/><path class="p" d="M503 -5L508 0L503 5Z"/><path class="w" d="M269.5 -4V4M503.5 -5V5"/><text x="527" y="4">UniRef100_B8IH76</text></g>
<g transform="translate(0,1979)"><rect class="n" x="10" y="-1.5" width="517" height="3"/><rect class="g" x="278" y="-1.5" width="229" height="3"/><path class="g" d="M507 -5L512 0L507 5Z"/><path class="w" d="M278.5 -4V4M507.5 -5V5"/><text x="527" y="4">UniRef100_Q6M080</text></g>
<g transform="translate(0,1990)"><rect class="g" x="275" y="-1.5" width="228" height="3"/><path class="g" d="M503 -5L508 0L503 5Z"/><path class="w" d="M275.5 -4V4M503.5 -5V5"/><text x="527" y="4">UniRef100_Q0AJI5</text></g>
<g transform="translate(0,2001)"><rect class="n" x="10" y="-1.5" width="517" height="3"/><rect class="p" x="272" y="-1.5" width="235" height="3"/><path class="p" d="M507 -5L512 0L507 5Z"/><path class="w" d="M272.5 -4V4M507.5 -5V5"/><text x="527" y="4">UniRef100_B0UK79</text></g>
<g transform="translate(0,2012)"><rect class="g" x="280" y="-1.5" width="229" height="3"/><path class="g" d="M509 -5L514 0L509 5Z"/><path class="w" d="M280.5 -4V4M509.5 -5V5"/><text x="527" y="4">UniRef100_A8F837</text></g>
<g transform="translate(0,2023)"><rect class="n" x="10" y="-1.5" width="517" height="3"/><rect class="p" x="278" y="-1.5" width="229" height="3"/><path class="p" d="M507 -5L512 0L507 5Z"/><path class="w" d="M278.5 -4V4M507.5 -5V5"/><text x="527" y="4">UniRef100_A9A6Q8</text></g>
<g transform="translate(0,2034)"><rect class="p" x="278" y="-1.5" width="229" height="3"/><path class="p" d="M507 -5L512 0L507 5Z"/><path class="w" d="M278.5 -4V4M507.5 -5V5"/><text x="527" y="4">UniRef100_A6VJ26</text></g>
<g transform="translate(0,2045)"><rect class="n" x="10" y="-1.5" width="517" height="3"/><rect class="p" x="283" y="-1.5" width="226" height="3"/><path class="p" d="M509 -5L514 0L509 5Z"/><path class="w" d="M283.5 -4V4M509.5 -5V5"/><text x="527" y="4">UniRef100_C6HZG8</text></g>
<g transform="translate(0,2056)"><rect class="g" x="283" y="-1.5" width="220" height="3"/><path class="g" d="M503 -5L508 0L503 5Z"/><path class="w" d="M283.5 -4V4M503.5 -5V5"/><text x="527" y="4">UniRef100_A9DTW1</text></g>
<g transform="translate(0,2067)"><rect class="n" x="10" y="-1.5" width="517" height="3"/><rect class="g" x="272" y="-1.5" width="235" height="3"/><path class="g" d="M507 -5L512 0L507 5Z"/><path class="w" d="M272.5 -4V4M507.5 -5V5"/><text x="527" y="4">UniRef100_O27638</text></g>
<g transform="translate(0,2078)"><rect class="g" x="278" y="-1.5" width="224" height="3"/><path class="g" d="M502 -5L507 0L502 5Z"/><path class="w" d="M278.5 -4V4M502.5 -5V5"/><text x="527" y="4">UniRef100_B6JGB9</text></g>
<g transform="translate(0,2089)"><rect class="n" x="10" y="-1.5" width="517" height="3"/><rect class="g" x="294" y="-1.5" width="215" height="3"/><path class="g" d="M509 -5L514 0L509 5Z"/><path class="w" d="M294.5 -4V4M509.5 -5V5"/><text x="527" y="4">UniRef100_C5CIR2</text></g>
<g transform="translate(0,2100)"><rect class="g" x="294" y="-1.5" width="215" height="3"/><path class="g" d="M509 -5L514 0L509 5Z"/><path class="w" d="M294.5 -4V4M509.5 -5V5"/><text x="527" y="4">UniRef100_B5YKK7</text></g>
<g transform="translate(0,2111)"><rect class="n" x="10" y="-1.5" width="517" height="3"/><rect class="g" x="294" y="-1.5" width="209" height="3"/><path class="g" d="M503 -5L508 0L503 5Z"/><path class="w" d="M294.5 -4V4M503.5 -5V5"/><text x="527" y="4">UniRef100_C3XD47</text></g>
<g transform="translate(0,2122)"><rect class="g" x="275" y="-1.5" width="138" height="3"/><path class="g" d="M413 -5L418 0L413 5Z"/><path class="w" d="M275.5 -4V4M413.5 -5V5"/><text x="527" y="4">UniRef100_UPI000..</text></g>
<g transform="translate(0,2133)"><rect class="n" x="10" y="-1.5" width="517" height="3"/><rect class="p" x="275" y="-1.5" width="228" height="3"/><path class="p" d="M503 -5L508 0L503 5Z"/><path class="w" d="M275.5 -4V4M503.5 -5V5"/><text x="527" y="4">UniRef100_Q82Y54</text></g>
<g transform="translate(0,2144)"><rect class="g" x="283" y="-1.5" width="220" height="3"/><path class="g" d="M503 -5L508 0L503 5Z"/><path class="w" d="M283.5 -4V4M503.5 -5V5"/><text x="527" y="4">UniRef100_A1HUC4</text></g>
<g transform="translate(0,2155)"><rect class="n" x="10" y="-1.5" width="517" height="3"/><rect class="g" x="299" y="-1.5" width="204" height="3"/><path class="g" d="M503 -5L508 0L503 5Z"/><path class="w" d="M299.5 -4V4M503.5 -5V5"/><text x="527" y="4">UniRef100_UPI000..</text></g>
<g transform="translate(0,2166)"><rect class="p" x="275" y="-1.5" width="228" height="3"/><path class="p" d="M503 -5L508 0L503 5Z"/><path class="w" d="M275.5 -4V4M503.5 -5V5"/><text x="527" y="4">UniRef100_Q2RMI0</text></g>
<g transform="translate(0,2177)"><rect class="n" x="10" y="-1.5" width="517" height="3"/><rect class="p" x="269" y="-1.5" width="240" height="3"/><path class="p" d="M509 -5L514 0L509 5Z"/><path class="w" d="M269.5 -4V4M509.5 -5V5"/><text x="527" y="4">UniRef100_Q6NBN9</text></g>
<g transform="translate(0,2188)"><rect class="p" x="269" y="-1.5" width="240" height="3"/><path class="p" d="M509 -5L514 0L509 5Z"/><path class="w" d="M269.5 -4V4M509.5 -5V5"/><text x="527" y="4">UniRef100_B3QED5</text></g>
<g transform="translate(0,2199)"><rect class="n" x="10" y="-1.5" width="517" height="3"/><rect class="p" x="297" y="-1.5" width="212" height="3"/><path class="p" d="M509 -5L514 0L509 5Z"/><path class="w" d="M297.5 -4V4M509.5 -5V5"/><text x="527" y="4">UniRef100_C8W036</text></g>
<g transform="translate(0,2210)"><rect class="p" x="272" y="-1.5" width="237" height="3"/><path class="p" d="M509 -5L514 0L509 5Z"/><path class="w" d="M272.5 -4V4M509.5 -5V5"/><text x="527" y="4">UniRef100_C4FHP6</text></g>
<g transform="translate(0,2221)"><rect class="n" x="10" y="-1.5" width="517" height="3"/><rect class="p" x="272" y="-1.5" width="237" height="3"/><path class="p" d="M509 -5L514 0L509 5Z"/><path class="w" d="M272.5 -4V4M509.5 -5V5"/><text x="527" y="4">UniRef100_C1SJ41</text></g>
<g transform="translate(0,2232)"><rect class="p" x="272" y="-1.5" width="237" height="3"/><path class="p" d="M509 -5L514 0L509 5Z"/><path class="w" d="M272.5 -4V4M509.5 -5V5"/><text x="527" y="4">UniRef100_B2V612</text></g>
<g transform="translate(0,2243)"><rect class="n" x="10" y="-1.5" width="517" height="3"/><rect class="p" x="275" y="-1.5" width="228" height="3"/><path class="p" d="M503 -5L508 0L503 5Z"/><path class="w" d="M275.5 -4V4M503.5 -5V5"/><text x="527" y="4">UniRef100_B0U9L9</text></g>
<g transform="translate(0,2254)"><rect class="g" x="289" y="-1.5" width="214" height="3"/><path class="g" d="M503 -5L508 0L503 5Z"/><path class="w" d="M289.5 -4V4M503.5 -5V5"/><text x="527" y="4">UniRef100_B9ZJM0</text></g>
<g transform="translate(0,2265)"><rect class="n" x="10" y="-1.5" width="517" height="3"/><rect class="p" x="283" y="-1.5" width="220" height="3"/><path class="p" d="M503 -5L508 0L503 5Z"/><path class="w" d="M283.5 -4V4M503.5 -5V5"/><text x="527" y="4">UniRef100_C5S9D7</text></g>
<g transform="translate(0,2276)"><rect class="c" x="434" y="-1.5" width="75" height="3"/><path class="c" d="M509 -5L514 0L509 5Z"/><path class="w" d="M434.5 -4V4M509.5 -5V5"/><text x="527" y="4">UniRef100_A7LHD9</text></g>
<g transform="translate(0,2287)"><rect class="n" x="10" y="-1.5" width="517" height="3"/><rect class="p" x="275" y="-1.5" width="234" height="3"/><path class="p" d="M509 -5L514 0L509 5Z"/><path class="w" d="M275.5 -4V4M509.5 -5V5"/><text x="527" y="4">UniRef100_A2BN48</text></g>
<g transform="translate(0,2298)"><rect class="p" x="278" y="-1.5" width="225" height="3"/><path class="p" d="M503 -5L508 0L503 5Z"/><path class="w" d="M278.5 -4V4M503.5 -5V5"/><text x="527" y="4">UniRef100_A1BJ71</text></g>
<g transform="translate(0,2309)"><rect class="n" x="10" y="-1.5" width="517" height="3"/><rect class="c" x="434" y="-1.5" width="75" height="3"/><path class="c" d="M509 -5L514 0L509 5Z"/><path class="w" d="M434.5 -4V4M509.5 -5V5"/><text x="527" y="4">UniRef100_A7LHE0</text></g>
<g transform="translate(0,2320)"><rect class="p" x="283" y="-1.5" width="226" height="3"/><path class="p" d="M509 -5L514 0L509 5Z"/><path class="w" d="M283.5 -4V4M509.5 -5V5"/><text x="527" y="4">UniRef100_B7IFI0</text></g>
<g transform="translate(0,2331)"><rect class="n" x="10" y="-1.5" width="517" height="3"/><rect class="g" x="294" y="-1.5" width="215" height="3"/><path class="g" d="M509 -5L514 0L509 5Z"/><path class="w" d="M294.5 -4V4M509.5 -5V5"/><text x="527" y="4">UniRef100_A5D6D3</text></g>
<g transform="translate(0,2342)"><rect class="p" x="283" y="-1.5" width="224" height="3"/><path class="p" d="M507 -5L512 0L507 5Z"/><path class="w" d="M283.5 -4V4M507.5 -5V5"/><text x="527" y="4">UniRef100_C7P7Y1</text></g>
<g transform="translate(0,2353)"><rect class="n" x="10" y="-1.5" width="517" height="3"/><rect class="p" x="283" y="-1.5" width="220" height="3"/><path class="p" d="M503 -5L508 0L503 5Z"/><path class="w" d="M283.5 -4V4M503.5 -5V5"/><text x="527" y="4">UniRef100_B8I045</text></g>
<g transform="translate(0,2364)"><rect class="g" x="275" y="-1.5" width="218" height="3"/><path class="g" d="M493 -5L498 0L493 5Z"/><path class="w" d="M275.5 -4V4M493.5 -5V5"/><text x="527" y="4">UniRef100_Q0IE39</text></g>
<g transform="translate(0,2375)"><rect class="n" x="10" y="-1.5" width="517" height="3"/><rect class="p" x="283" y="-1.5" width="224" height="3"/><path class="p" d="M507 -5L512 0L507 5Z"/><path class="w" d="M283.5 -4V4M507.5 -5V5"/><text x="527" y="4">UniRef100_B7KJA0</text></g>
<g transform="translate(0,2386)"><rect class="g" x="297" y="-1.5" width="206" height="3"/><path class="g" d="M503 -5L508 0L503 5Z"/><path class="w" d="M297.5 -4V4M503.5 -5V5"/><text x="527" y="4">UniRef100_UPI000..</text></g>
<g transform="translate(0,2397)"><rect class="n" x="10" y="-1.5" width="517" height="3"/><rect class="p" x="267" y="-1.5" width="236" height="3"/><path class="p" d="M503 -5L508 0L503 5Z"/><path class="w" d="M267.5 -4V4M503.5 -5V5"/><text x="527" y="4">UniRef100_Q2Y5Z4</text></g>
<g transform="translate(0,2408)"><rect class="p" x="297" y="-1.5" width="210" height="3"/><path class="p" d="M507 -5L512 0L507 5Z"/><path class="w" d="M297.5 -4V4M507.5 -5V5"/><text x="527" y="4">UniRef100_B9DN69</text></g>
<g transform="translate(0,2419)"><rect class="n" x="10" y="-1.5" width="517" height="3"/><rect class="p" x="278" y="-1.5" width="225" height="3"/><path class="p" d="M503 -5L508 0L503 5Z"/><path class="w" d="M278.5 -4V4M503.5 -5V5"/><text x="527" y="4">UniRef100_B3EHG1</text></g>
<g transform="translate(0,2430)"><rect class="g" x="278" y="-1.5" width="225" height="3"/><path class="g" d="M503 -5L508 0L503 5Z"/><path class="w" d="M278.5 -4V4M503.5 -5V5"/><text x="527" y="4">UniRef100_P16421</text></g>
<g transform="translate(0,2441)"><rect class="n" x="10" y="-1.5" width="517" height="3"/><rect class="g" x="294" y="-1.5" width="199" height="3"/><path class="g" d="M493 -5L498 0L493 5Z"/><path class="w" d="M294.5 -4V4M493.5 -5V5"/><text x="527" y="4">UniRef100_B2J7U0</text></g>
<g transform="translate(0,2452)"><rect class="g" x="283" y="-1.5" width="220" height="3"/><path class="g" d="M503 -5L508 0L503 5Z"/><path class="w" d="M283.5 -4V4M503.5 -5V5"/><text x="527" y="4">UniRef100_A0YZE4</text></g>
<g transform="translate(0,2463)"><rect class="n" x="10" y="-1.5" width="517" height="3"/><rect class="p" x="283" y="-1.5" width="224" height="3"/><path class="p" d="M507 -5L512 0L507 5Z"/><path class="w" d="M283.5 -4V4M507.5 -5V5"/><text x="527" y="4">UniRef100_C9RIA3</text></g>
<g transform="translate(0,2474)"><rect class="p" x="283" y="-1.5" width="224" height="3"/><path class="p" d="M507 -5L512 0L507 5Z"/><path class="w" d="M283.5 -4V4M507.5 -5V5"/><text x="527" y="4">UniRef100_Q58369</text></g>
<g transform="translate(0,2485)"><rect class="n" x="10" y="-1.5" width="517" height="3"/><rect class="p" x="283" y="-1.5" width="220" height="3"/><path class="p" d="M503 -5L508 0L503 5Z"/><path class="w" d="M283.5 -4V4M503.5 -5V5"/><text x="527" y="4">UniRef100_Q10ZM9</text></g>
<g transform="translate(0,2496)"><rect class="p" x="272" y="-1.5" width="237" height="3"/><path class="p" d="M509 -5L514 0L509 5Z"/><path class="w" d="M272.5 -4V4M509.5 -5V5"/><text x="527" y="4">UniRef100_Q07T81</text></g>
<g transform="translate(0,2507)"><rect class="n" x="10" y="-1.5" width="517" height="3"/><rect class="g" x="283" y="-1.5" width="167" height="3"/><path class="g" d="M450 -5L455 0L450 5Z"/><path class="w" d="M283.5 -4V4M450.5 -5V5"/><text x="527" y="4">UniRef100_C0ZC91</text></g>
<g transform="translate(0,2518)"><rect class="p" x="272" y="-1.5" width="237" height="3"/><path class="p" d="M509 -5L514 0L509 5Z"/><path class="w" d="M272.5 -4V4M509.5 -5V5"/><text x="527" y="4">UniRef100_C0QTX0</text></g>
<g transform="translate(0,2529)"><rect class="n" x="10" y="-1.5" width="517" height="3"/><rect class="g" x="294" y="-1.5" width="215" height="3"/><path class="g" d="M509 -5L514 0L509 5Z"/><path class="w" d="M294.5 -4V4M509.5 -5V5"/><text x="527" y="4">UniRef100_A8V619</text></g>
<g transform="translate(0,2540)"><rect class="p" x="278" y="-1.5" width="225" height="3"/><path class="p" d="M503 -5L508 0L503 5Z"/><path class="w" d="M278.5 -4V4M503.5 -5V5"/><text x="527" y="4">UniRef100_A4A834</text></g>
<g transform="translate(0,2551)"><rect class="n" x="10" y="-1.5" width="517" height="3"/><rect class="p" x="272" y="-1.5" width="221" height="3"/><path class="p" d="M493 -5L498 0L493 5Z"/><path class="w" d="M272.5 -4V4M493.5 -5V5"/><text x="527" y="4">UniRef100_B8HX28</text></g>
<g transform="translate(0,2562)"><rect class="p" x="283" y="-1.5" width="224" height="3"/><path class="p" d="M507 -5L512 0L507 5Z"/><path class="w" d="M283.5 -4V4M507.5 -5V5"/><text x="527" y="4">UniRef100_C7QPE5</text></g>
<g transform="translate(0,2573)"><rect class="n" x="10" y="-1.5" width="517" height="3"/><rect class="p" x="269" y="-1.5" width="240" height="3"/><path class="p" d="M509 -5L514 0L509 5Z"/><path class="w" d="M269.5 -4V4M509.5 -5V5"/><text x="527" y="4">UniRef100_Q2IR48</text></g>
<g transform="translate(0,2584)"><rect class="g" x="283" y="-1.5" width="224" height="3"/><path class="g" d="M507 -5L512 0L507 5Z"/><path class="w" d="M283.5 -4V4M507.5 -5V5"/><text x="527" y="4">UniRef100_P74281</text></g>
<g transform="translate(0,2595)"><rect class="n" x="10" y="-1.5" width="517" height="3"/><rect class="p" x="295" y="-1.5" width="214" height="3"/><path class="p" d="M509 -5L514 0L509 5Z"/><path class="w" d="M295.5 -4V4M509.5 -5V5"/><text x="527" y="4">UniRef100_B8DYJ6</text></g>
<g transform="translate(0,2606)"><rect class="p" x="283" y="-1.5" width="226" height="3"/><path class="p" d="M509 -5L514 0L509 5Z"/><path class="w" d="M283.5 -4V4M509.5 -5V5"/><text x="527" y="4">UniRef100_A6LJ87</text></g>
<g transform="translate(0,2617)"><rect class="n" x="10" y="-1.5" width="517" height="3"/><rect class="g" x="281" y="-1.5" width="211" height="3"/><path class="g" d="M492 -5L497 0L492 5Z"/><path class="w" d="M281.5 -4V4M492.5 -5V5"/><text x="527" y="4">UniRef100_A5GPZ1</text></g>
<g transform="translate(0,2628)"><rect class="p" x="283" y="-1.5" width="221" height="3"/><path class="p" d="M504 -5L509 0L504 5Z"/><path class="w" d="M283.5 -4V4M504.5 -5V5"/><text x="527" y="4">UniRef100_C9RA77</text></g>
<g transform="translate(0,2639)"><rect class="n" x="10" y="-1.5" width="517" height="3"/><rect class="p" x="295" y="-1.5" width="209" height="3"/><path class="p" d="M504 -5L509 0L504 5Z"/><path class="w" d="M295.5 -4V4M504.5 -5V5"/><text x="527" y="4">UniRef100_C6MDF5</text></g>
<g transform="translate(0,2650)"><rect class="p" x="283" y="-1.5" width="226" height="3"/><path class="p" d="M509 -5L514 0L509 5Z"/><path class="w" d="M283.5 -4V4M509.5 -5V5"/><text x="527" y="4">UniRef100_Q1PXR8</text></g>
<g transform="translate(0,2661)"><rect class="n" x="10" y="-1.5" width="517" height="3"/><rect class="p" x="297" y="-1.5" width="210" height="3"/><path class="p" d="M507 -5L512 0L507 5Z"/><path class="w" d="M297.5 -4V4M507.5 -5V5"/><text x="527" y="4">UniRef100_A5UL04</text></g>
<g transform="translate(0,2672)"><rect class="p" x="279" y="-1.5" width="228" height="3"/><path class="p" d="M507 -5L512 0L507 5Z"/><path class="w" d="M279.5 -4V4M507.5 -5V5"/><text x="527" y="4">UniRef100_Q18MJ4</text></g>
<text x="10" y="2694">Large gaps: ▲(in Query)/- (in Subject)</text>
<rect x="438" y="2688" width="18" height="3" fill="#00c0c8"/>
<path class="w" d="M438.5 2685V2694M456.5 2685V2694"/>
<text x="459" y="2694">=100char.</text>
</svg>
</body></html>
